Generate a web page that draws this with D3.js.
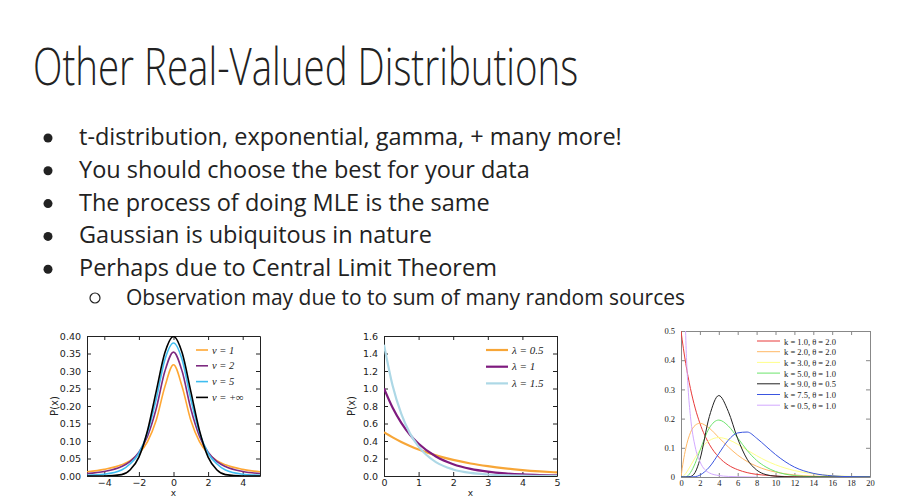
<!DOCTYPE html>
<html><head><meta charset="utf-8">
<script src="https://cdn.jsdelivr.net/npm/d3@7"></script>
<style>
body{margin:0;background:#fff}
svg text{fill:#222}
</style></head><body>
<script>
const bullets = [
  't-distribution, exponential, gamma, + many more!',
  'You should choose the best for your data',
  'The process of doing MLE is the same',
  'Gaussian is ubiquitous in nature',
  'Perhaps due to Central Limit Theorem'
];
const subBullet = 'Observation may due to to sum of many random sources';

// t-distribution
const tX = [-5,-4,-3,-2.5,-2,-1.5,-1,-0.5,0,0.5,1,1.5,2,2.5,3,4,5];
const tNu1 = [.012,.019,.032,.044,.064,.098,.159,.255,.318,.255,.159,.098,.064,.044,.032,.019,.012];
const tNu2 = [.007,.013,.027,.042,.068,.114,.192,.299,.354,.299,.192,.114,.068,.042,.027,.013,.007];
const tNu5 = [.002,.005,.017,.035,.065,.124,.220,.332,.380,.332,.220,.124,.065,.035,.017,.005,.002];
const tNorm = [0,.0001,.004,.018,.054,.130,.242,.352,.399,.352,.242,.130,.054,.018,.004,.0001,0];
const tLabels = ['\u03bd = 1','\u03bd = 2','\u03bd = 5','\u03bd = +\u221e'];
const tColors = ['#ffa733','#7d2a80','#3fbdf0','#000'];

// exponential
const eX = [0,.25,.5,.75,1,1.5,2,2.5,3,3.5,4,4.5,5];
const eL05 = [.5,.441,.389,.344,.303,.236,.184,.143,.112,.087,.068,.053,.041];
const eL1 = [1,.779,.607,.472,.368,.223,.135,.082,.050,.030,.018,.011,.007];
const eL15 = [1.5,1.031,.709,.487,.335,.158,.075,.035,.017,.008,.004,.002,.001];
const eLabels = ['\u03bb = 0.5','\u03bb = 1','\u03bb = 1.5'];
const eColors = ['#f7a637','#7e1a7e','#add8e6'];

// gamma
const gX = [0,.25,.5,1,1.5,2,3,4,5,6,7,8,9,10,12,14,16,18,20];
const gK1 = [.5,.441,.389,.303,.236,.184,.112,.068,.041,.025,.015,.009,.006,.003,.001,0,0,0,0];
const gK2 = [0,.055,.097,.152,.177,.184,.167,.135,.103,.075,.053,.037,.025,.017,.007,.003,.001,0,0];
const gK3 = [0,.003,.012,.038,.066,.092,.125,.135,.128,.112,.092,.073,.056,.042,.022,.011,.005,.002,.001];
const gK5 = [0,0,.0001,.015,.047,.090,.168,.195,.175,.134,.091,.057,.034,.019,.005,.001,0,0,0];
const gK9 = [0,0,0,.0017,.016,.060,.207,.279,.225,.131,.061,.024,.008,.003,0,0,0,0,0];
const gK75 = [0,0,0,.0002,.001,.0065,.034,.080,.126,.151,.154,.133,.105,.077,.034,.0125,.004,.001,0];
const gHalfX = [.1,.25,.5,.75,1,1.5,2,3,4,5,6,8];
const gHalf = [1.61,.879,.484,.305,.208,.103,.053,.014,.005,.002,.001,0];
const gLabels = ['k = 1.0, \u03b8 = 2.0','k = 2.0, \u03b8 = 2.0','k = 3.0, \u03b8 = 2.0','k = 5.0, \u03b8 = 1.0','k = 9.0, \u03b8 = 0.5','k = 7.5, \u03b8 = 1.0','k = 0.5, \u03b8 = 1.0'];
const gColors = ['#e83a3a','#ffb865','#ffff8a','#6ce46c','#222','#3a55e0','#d2a8ff'];

const svg = d3.select('body').append('svg').attr('width',915).attr('height',498);

// narrow title: squeeze horizontally
svg.append('text').attr('transform','translate(33,85) scale(0.74,1)')
  .style('font-family','"Open Sans",sans-serif').style('font-weight',300)
  .style('font-size','52px')
  .text('Other Real-Valued Distributions');

bullets.forEach((b,i) => {
  const y = 145 + i*32.8;
  svg.append('circle').attr('cx',48).attr('cy',y-7).attr('r',4.5).attr('fill','#222');
  svg.append('text').attr('x',79).attr('y',y)
    .style('font-family','"Open Sans",sans-serif').style('font-size','23.5px').text(b);
});
svg.append('circle').attr('cx',95).attr('cy',298).attr('r',5).attr('fill','none').attr('stroke','#222').attr('stroke-width',1.2);
svg.append('text').attr('x',126).attr('y',305)
  .style('font-family','"Open Sans",sans-serif').style('font-size','21px').text(subBullet);

function panel(o){
  const g = svg.append('g');
  const x = d3.scaleLinear().domain(o.xd).range([o.x0,o.x1]);
  const y = d3.scaleLinear().domain(o.yd).range([o.y1,o.y0]);
  const id = 'clip'+o.name;
  svg.append('clipPath').attr('id',id).append('rect')
    .attr('x',o.x0).attr('y',o.y0).attr('width',o.x1-o.x0).attr('height',o.y1-o.y0);
  const font = o.serif ? '"Liberation Serif",serif' : '"DejaVu Sans",sans-serif';
  const axes = [
    [d3.axisBottom(x).tickValues(o.xt).tickFormat(o.xf), `translate(0,${o.y1})`, 3],
    [d3.axisTop(x).tickValues(o.xt).tickFormat(''), `translate(0,${o.y0})`, 3],
    [d3.axisLeft(y).tickValues(o.yt).tickFormat(o.yf), `translate(${o.x0},0)`, 6],
    [d3.axisRight(y).tickValues(o.yt).tickFormat(''), `translate(${o.x1},0)`, 6]
  ];
  axes.forEach(([ax,tr,pad]) => {
    const a = g.append('g').attr('transform',tr).call(ax.tickSizeInner(-4).tickSizeOuter(0).tickPadding(pad));
    a.select('.domain').attr('stroke',o.frame);
    a.selectAll('.tick line').attr('stroke',o.frame);
    a.selectAll('text').style('font-family',font).style('font-size',o.fs+'px').attr('fill','#222');
  });
  const line = d3.line().curve(d3.curveMonotoneX);
  o.series.forEach((s,i) => {
    g.append('path').attr('clip-path',`url(#${id})`)
      .attr('d', line(s.x.map((v,j) => [x(v), y(s.y[j])])))
      .attr('fill','none').attr('stroke',s.c).attr('stroke-width',o.lw);
  });
  o.series.forEach((s,i) => {
    const ly = o.ly + i*o.lstep;
    g.append('line').attr('x1',o.lx).attr('x2',o.lx+o.llen).attr('y1',ly).attr('y2',ly)
      .attr('stroke',s.c).attr('stroke-width',o.lw);
    g.append('text').attr('x',o.lx+o.llen+4).attr('y',ly+3.5)
      .style('font-family','"Liberation Serif",serif').style('font-size',o.lfs+'px')
      .style('font-style', o.serif ? 'normal' : 'italic').text(s.l);
  });
  if (o.xlab){
    g.append('text').attr('x',(o.x0+o.x1)/2).attr('y',o.y1+20).attr('text-anchor','middle')
      .style('font-family',font).style('font-size','9px').text('x');
    g.append('text').attr('transform',`translate(${o.x0-29},${(o.y0+o.y1)/2}) rotate(-90)`)
      .attr('text-anchor','middle').style('font-family',font).style('font-size','10px').text('P(x)');
  }
}

panel({name:'t', x0:87, x1:260, y0:336, y1:476, xd:[-5,5], yd:[0,0.4],
  xt:[-4,-2,0,2,4], xf:d=>d<0?'\u2212'+(-d):d, yt:d3.range(0,0.41,0.05), yf:d3.format('.2f'),
  fs:9.5, frame:'#222', lw:1.6, xlab:true,
  lx:196, llen:12, ly:350, lstep:15.8, lfs:10.5,
  series:[tNu1,tNu2,tNu5,tNorm].map((v,i)=>({x:tX,y:v,c:tColors[i],l:tLabels[i]}))});

panel({name:'e', x0:384, x1:557, y0:336, y1:476, xd:[0,5], yd:[0,1.6],
  xt:[0,1,2,3,4,5], xf:d3.format('d'), yt:d3.range(0,1.61,0.2), yf:d3.format('.1f'),
  fs:9.5, frame:'#222', lw:2.2, xlab:true,
  lx:486, llen:22, ly:350, lstep:16.7, lfs:11,
  series:[eL05,eL1,eL15].map((v,i)=>({x:eX,y:v,c:eColors[i],l:eLabels[i]}))});

panel({name:'g', x0:681, x1:870, y0:331, y1:477, xd:[0,20], yd:[0,0.5],
  xt:d3.range(0,21,2), xf:d3.format('d'), yt:[0,.1,.2,.3,.4,.5], yf:d=>d===0?'0':d,
  fs:8.5, frame:'#888', lw:1, serif:true, xlab:false,
  lx:757, llen:23, ly:341, lstep:10.7, lfs:8.5,
  series:[gK1,gK2,gK3,gK5,gK9,gK75].map((v,i)=>({x:gX,y:v,c:gColors[i],l:gLabels[i]}))
    .concat([{x:gHalfX,y:gHalf,c:gColors[6],l:gLabels[6]}])});
</script>
</body></html>
